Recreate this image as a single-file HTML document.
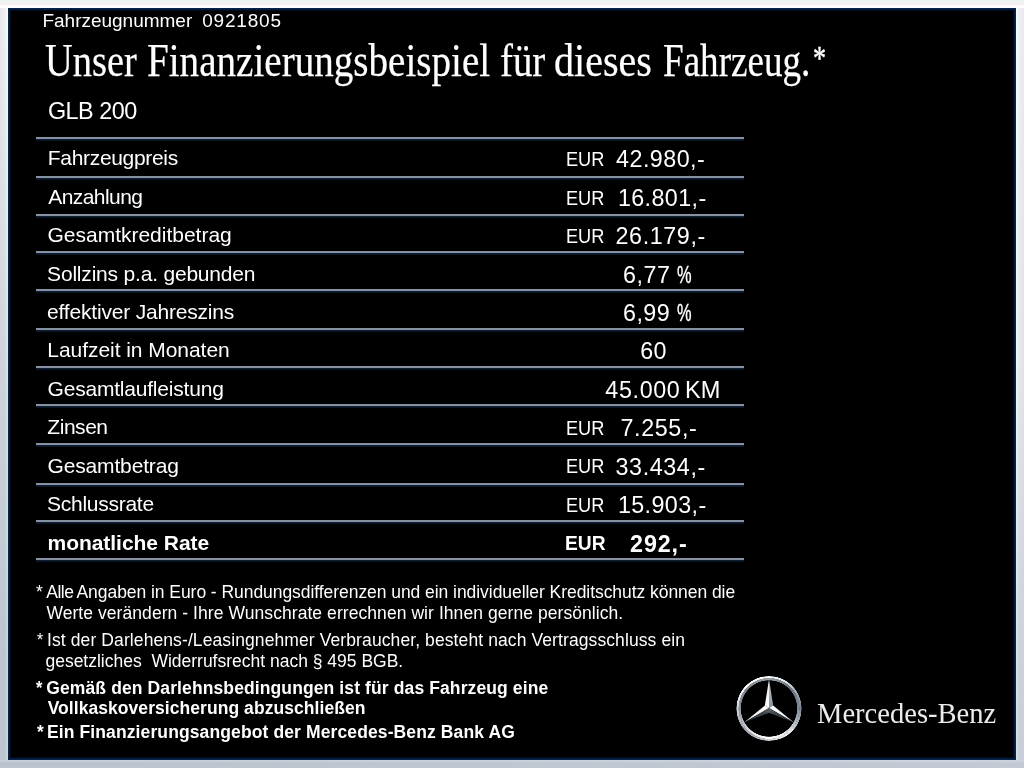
<!DOCTYPE html>
<html><head><meta charset="utf-8">
<style>
html,body{margin:0;padding:0;}
body{width:1024px;height:768px;overflow:hidden;position:relative;background:#e8eaee;font-family:"Liberation Sans",sans-serif;color:#fff;}
#bt{position:absolute;left:0;top:0;width:1024px;height:8px;background:linear-gradient(180deg,#e9f5f5 0,#eef3f4 2px,#f7f0f0 3px,#f3f1f2 5px,#fff 6px,#fff 8px);}
#bb{position:absolute;left:0;top:760px;width:1024px;height:8px;background:linear-gradient(180deg,rgba(255,255,255,.25) 0,rgba(255,255,255,.1) 2px,rgba(255,255,255,0) 3px,rgba(190,200,190,.25) 5px,rgba(200,196,222,.4) 8px),linear-gradient(90deg,#b7c3cd 0,#c2cad5 100%);}
#bl{position:absolute;left:0;top:0;width:8px;height:768px;background:linear-gradient(90deg,rgba(205,200,235,.35) 0,rgba(205,205,195,.25) 3px,rgba(190,215,215,.2) 5px,rgba(255,255,255,.3) 7px,rgba(255,255,255,.3) 8px),linear-gradient(180deg,#f8f8fb 0,#edf0f3 100px,#ccd4db 380px,#b6c3cd 650px,#b8c4ce 768px);}
#br{position:absolute;left:1016px;top:0;width:8px;height:768px;background:linear-gradient(270deg,rgba(205,200,235,.35) 0,rgba(205,205,195,.25) 3px,rgba(190,215,215,.2) 5px,rgba(255,255,255,.3) 7px,rgba(255,255,255,.3) 8px),linear-gradient(180deg,#f9f9fb 0,#eaedf1 380px,#cbd4dc 650px,#c6ceda 768px);}
#panel{position:absolute;left:8px;top:8px;width:1008px;height:752px;background:#000;box-shadow:inset 0 0 0 1.6px #06244a, inset 0 0 0 2.6px #03122a;}
#layer{position:absolute;left:0;top:0;width:1024px;height:768px;will-change:transform;}
.t{position:absolute;white-space:nowrap;line-height:1;transform-origin:0 0;}
.fz{font-size:19.0px;}
.title{-webkit-text-stroke:0.25px #fff;font-family:"Liberation Serif",serif;font-size:46.5px;}
.tstar{-webkit-text-stroke:0.5px #fff;font-family:"Liberation Serif",serif;font-size:33.0px;}
.model{font-size:23.4px;}
.ln{position:absolute;left:35.5px;width:708px;height:4.5px;background:linear-gradient(180deg,#8891a2 0,#8891a2 1.85px,#0e2038 1.95px,#0a1a2c 3.2px,#000 4.5px);}
.lab{font-size:21.0px;}
.eur{font-size:21.0px;}
.num,.pct,.km{font-size:23.3px;}
.pct{-webkit-text-stroke:0.4px #fff;}
.b{font-weight:bold;}
.fn{font-size:17.5px;}
.mb{font-family:"Liberation Serif",serif;font-size:29.5px;color:#ececec;}

</style></head><body>
<div id="bl"></div><div id="br"></div><div id="bt"></div><div id="bb"></div>
<div id="panel"></div>
<div id="layer">
<div class="ln" style="top:137.35px"></div>
<div class="ln" style="top:175.80px"></div>
<div class="ln" style="top:214.00px"></div>
<div class="ln" style="top:251.00px"></div>
<div class="ln" style="top:289.20px"></div>
<div class="ln" style="top:327.80px"></div>
<div class="ln" style="top:366.00px"></div>
<div class="ln" style="top:404.25px"></div>
<div class="ln" style="top:442.90px"></div>
<div class="ln" style="top:482.90px"></div>
<div class="ln" style="top:519.90px"></div>
<div class="ln" style="top:558.10px"></div>
<div class="t lab" style="left:47.82px;top:147.32px;letter-spacing:-0.323px">Fahrzeugpreis</div>
<div class="t lab" style="left:48.23px;top:185.74px;letter-spacing:-0.556px">Anzahlung</div>
<div class="t lab" style="left:47.52px;top:224.16px;letter-spacing:-0.010px">Gesamtkreditbetrag</div>
<div class="t lab" style="left:47.10px;top:262.58px;letter-spacing:-0.195px">Sollzins p.a. gebunden</div>
<div class="t lab" style="left:47.12px;top:301.00px;letter-spacing:-0.193px">effektiver Jahreszins</div>
<div class="t lab" style="left:47.32px;top:339.42px;letter-spacing:-0.049px">Laufzeit in Monaten</div>
<div class="t lab" style="left:47.52px;top:377.84px;letter-spacing:-0.202px">Gesamtlaufleistung</div>
<div class="t lab" style="left:47.35px;top:416.26px;letter-spacing:-0.466px">Zinsen</div>
<div class="t lab" style="left:47.52px;top:454.68px;letter-spacing:-0.152px">Gesamtbetrag</div>
<div class="t lab" style="left:47.10px;top:493.10px;letter-spacing:-0.272px">Schlussrate</div>
<div class="t lab b" style="left:47.50px;top:531.52px;letter-spacing:-0.035px">monatliche Rate</div>
<div class="t eur" style="left:565.93px;top:148.12px;transform:scaleX(0.8648)">EUR</div>
<div class="t eur" style="left:565.93px;top:186.54px;transform:scaleX(0.8648)">EUR</div>
<div class="t eur" style="left:565.93px;top:224.96px;transform:scaleX(0.8648)">EUR</div>
<div class="t eur" style="left:565.93px;top:417.06px;transform:scaleX(0.8648)">EUR</div>
<div class="t eur" style="left:565.93px;top:455.48px;transform:scaleX(0.8648)">EUR</div>
<div class="t eur" style="left:565.93px;top:493.90px;transform:scaleX(0.8648)">EUR</div>
<div class="t eur b" style="left:564.88px;top:532.32px;transform:scaleX(0.9149)">EUR</div>
<div class="t num" style="left:616.12px;top:148.38px;letter-spacing:0.456px">42.980,-</div>
<div class="t num" style="left:617.91px;top:186.80px;letter-spacing:0.397px">16.801,-</div>
<div class="t num" style="left:615.50px;top:225.22px;letter-spacing:0.610px">26.179,-</div>
<div class="t num" style="left:623.10px;top:263.64px;letter-spacing:0.531px">6,77</div>
<div class="t pct" style="left:677.01px;top:263.64px;transform:scaleX(0.7020)">%</div>
<div class="t num" style="left:623.10px;top:302.06px;letter-spacing:0.402px">6,99</div>
<div class="t pct" style="left:677.01px;top:302.06px;transform:scaleX(0.7020)">%</div>
<div class="t num" style="left:640.15px;top:340.48px;letter-spacing:0.451px">60</div>
<div class="t num" style="left:605.32px;top:378.90px;letter-spacing:0.651px">45.000</div>
<div class="t km" style="left:685.41px;top:378.90px;transform:scaleX(1.0106)">KM</div>
<div class="t num" style="left:620.50px;top:417.32px;letter-spacing:0.627px">7.255,-</div>
<div class="t num" style="left:615.50px;top:455.74px;letter-spacing:0.610px">33.434,-</div>
<div class="t num" style="left:617.91px;top:494.16px;letter-spacing:0.397px">15.903,-</div>
<div class="t num b" style="left:630.08px;top:532.58px;letter-spacing:0.871px">292,-</div>
<div class="t fn" style="left:76.50px;top:584.19px;letter-spacing:-0.055px">Angaben in Euro - Rundungsdifferenzen und ein individueller Kreditschutz können die</div>
<div class="t fn" style="left:36.41px;top:584.19px;transform:scaleX(0.9984)">*</div>
<div class="t fn" style="left:46.39px;top:605.39px;letter-spacing:0.065px">Werte verändern - Ihre Wunschrate errechnen wir Ihnen gerne persönlich.</div>
<div class="t fn" style="left:47.05px;top:632.19px;letter-spacing:0.098px">Ist der Darlehens-/Leasingnehmer Verbraucher, besteht nach Vertragsschluss ein</div>
<div class="t fn" style="left:36.63px;top:632.19px;transform:scaleX(0.9027)">*</div>
<div class="t fn" style="left:45.43px;top:653.39px;letter-spacing:-0.004px">gesetzliches&nbsp; Widerrufsrecht nach § 495 BGB.</div>
<div class="t fn b" style="left:46.29px;top:679.54px;letter-spacing:0.111px">Gemäß den Darlehnsbedingungen ist für das Fahrzeug eine</div>
<div class="t fn b" style="left:35.82px;top:679.54px;transform:scaleX(0.9363)">*</div>
<div class="t fn b" style="left:47.63px;top:700.39px;letter-spacing:0.060px">Vollkaskoversicherung abzuschließen</div>
<div class="t fn b" style="left:46.98px;top:724.19px;letter-spacing:0.114px">Ein Finanzierungsangebot der Mercedes-Benz Bank AG</div>
<div class="t fn b" style="left:36.88px;top:724.19px;transform:scaleX(0.9815)">*</div>
<div class="t fz" style="left:42.46px;top:10.82px;letter-spacing:-0.014px">Fahrzeugnummer</div>
<div class="t fz" style="left:202.16px;top:10.82px;letter-spacing:0.810px">0921805</div>
<div class="t title" style="left:44.62px;top:38.36px;transform:scaleX(0.8261)">Unser</div>
<div class="t title" style="left:146.74px;top:38.36px;transform:scaleX(0.8410)">Finanzierungsbeispiel</div>
<div class="t title" style="left:499.88px;top:38.36px;transform:scaleX(0.8348)">für</div>
<div class="t title" style="left:554.13px;top:38.36px;transform:scaleX(0.8615)">dieses</div>
<div class="t title" style="left:662.66px;top:38.36px;transform:scaleX(0.7983)">Fahrzeug.</div>
<div class="t tstar" style="left:813.18px;top:41.86px;transform:scaleX(0.7887)">*</div>
<div class="t model" style="left:47.89px;top:99.59px;letter-spacing:-0.477px">GLB 200</div>
<div class="t mb" style="left:817.23px;top:698.99px;transform:scaleX(0.9680)">Mercedes-Benz</div>
<div class="t fn" style="left:46.27px;top:584.19px;letter-spacing:-0.516px">Alle</div>
<div id="ro" style="position:absolute;left:736px;top:675.5px;width:65.6px;height:65.6px;border-radius:50%;background:conic-gradient(from 0deg,#ffffff 0deg,#e4e8ec 30deg,#a0a8b4 60deg,#7c889a 90deg,#aab2be 115deg,#eef0f4 140deg,#d8dade 170deg,#b0b4b8 200deg,#9ca0a6 225deg,#b8bcc2 250deg,#dcdfe3 280deg,#f8f9fa 310deg,#ffffff 360deg);-webkit-mask:radial-gradient(circle closest-side,transparent 0,transparent 30.1px,#000 30.6px,#000 32.3px,transparent 32.8px);mask:radial-gradient(circle closest-side,transparent 0,transparent 30.1px,#000 30.6px,#000 32.3px,transparent 32.8px);"></div>
<div id="ri" style="position:absolute;left:736px;top:675.5px;width:65.6px;height:65.6px;border-radius:50%;background:conic-gradient(from 0deg,#9aa0a8 0deg,#6e747c 45deg,#808896 90deg,#d8dce0 135deg,#ffffff 180deg,#d4d8dc 225deg,#8a9098 270deg,#80868e 315deg,#9aa0a8 360deg);-webkit-mask:radial-gradient(circle closest-side,transparent 0,transparent 27.9px,#000 28.4px,#000 30.2px,transparent 30.6px);mask:radial-gradient(circle closest-side,transparent 0,transparent 27.9px,#000 28.4px,#000 30.2px,transparent 30.6px);"></div>
<svg id="logo" width="80" height="80" viewBox="-40 -40 80 80" style="position:absolute;left:728.8px;top:668.3px">
<defs>
<linearGradient id="ga" x1="0" y1="-28" x2="0" y2="0" gradientUnits="userSpaceOnUse"><stop offset="0" stop-color="#c8ccd0"/><stop offset="1" stop-color="#8c929a"/></linearGradient>
<linearGradient id="gb" x1="0" y1="-28" x2="0" y2="0" gradientUnits="userSpaceOnUse"><stop offset="0" stop-color="#e8e8e8"/><stop offset="1" stop-color="#ffffff"/></linearGradient>
<linearGradient id="gd" x1="0" y1="-28" x2="0" y2="0" gradientUnits="userSpaceOnUse"><stop offset="0" stop-color="#2a3038"/><stop offset="0.7" stop-color="#3a424a"/><stop offset="1" stop-color="#5a646c"/></linearGradient>
</defs>
<g>
<polygon points="0,-28.8 0,0 -4.16,-2.4" fill="url(#gb)"/>
<polygon points="0,-28.8 0,0 4.16,-2.4" fill="url(#ga)"/>
</g>
<g transform="rotate(120)">
<polygon points="0,-28.8 0,0 -4.16,-2.4" fill="url(#gb)"/>
<polygon points="0,-28.8 0,0 4.16,-2.4" fill="url(#gd)"/>
</g>
<g transform="rotate(240)">
<polygon points="0,-28.8 0,0 4.16,-2.4" fill="url(#gb)"/>
<polygon points="0,-28.8 0,0 -4.16,-2.4" fill="url(#gd)"/>
</g>
</svg>

</div>
</body></html>
